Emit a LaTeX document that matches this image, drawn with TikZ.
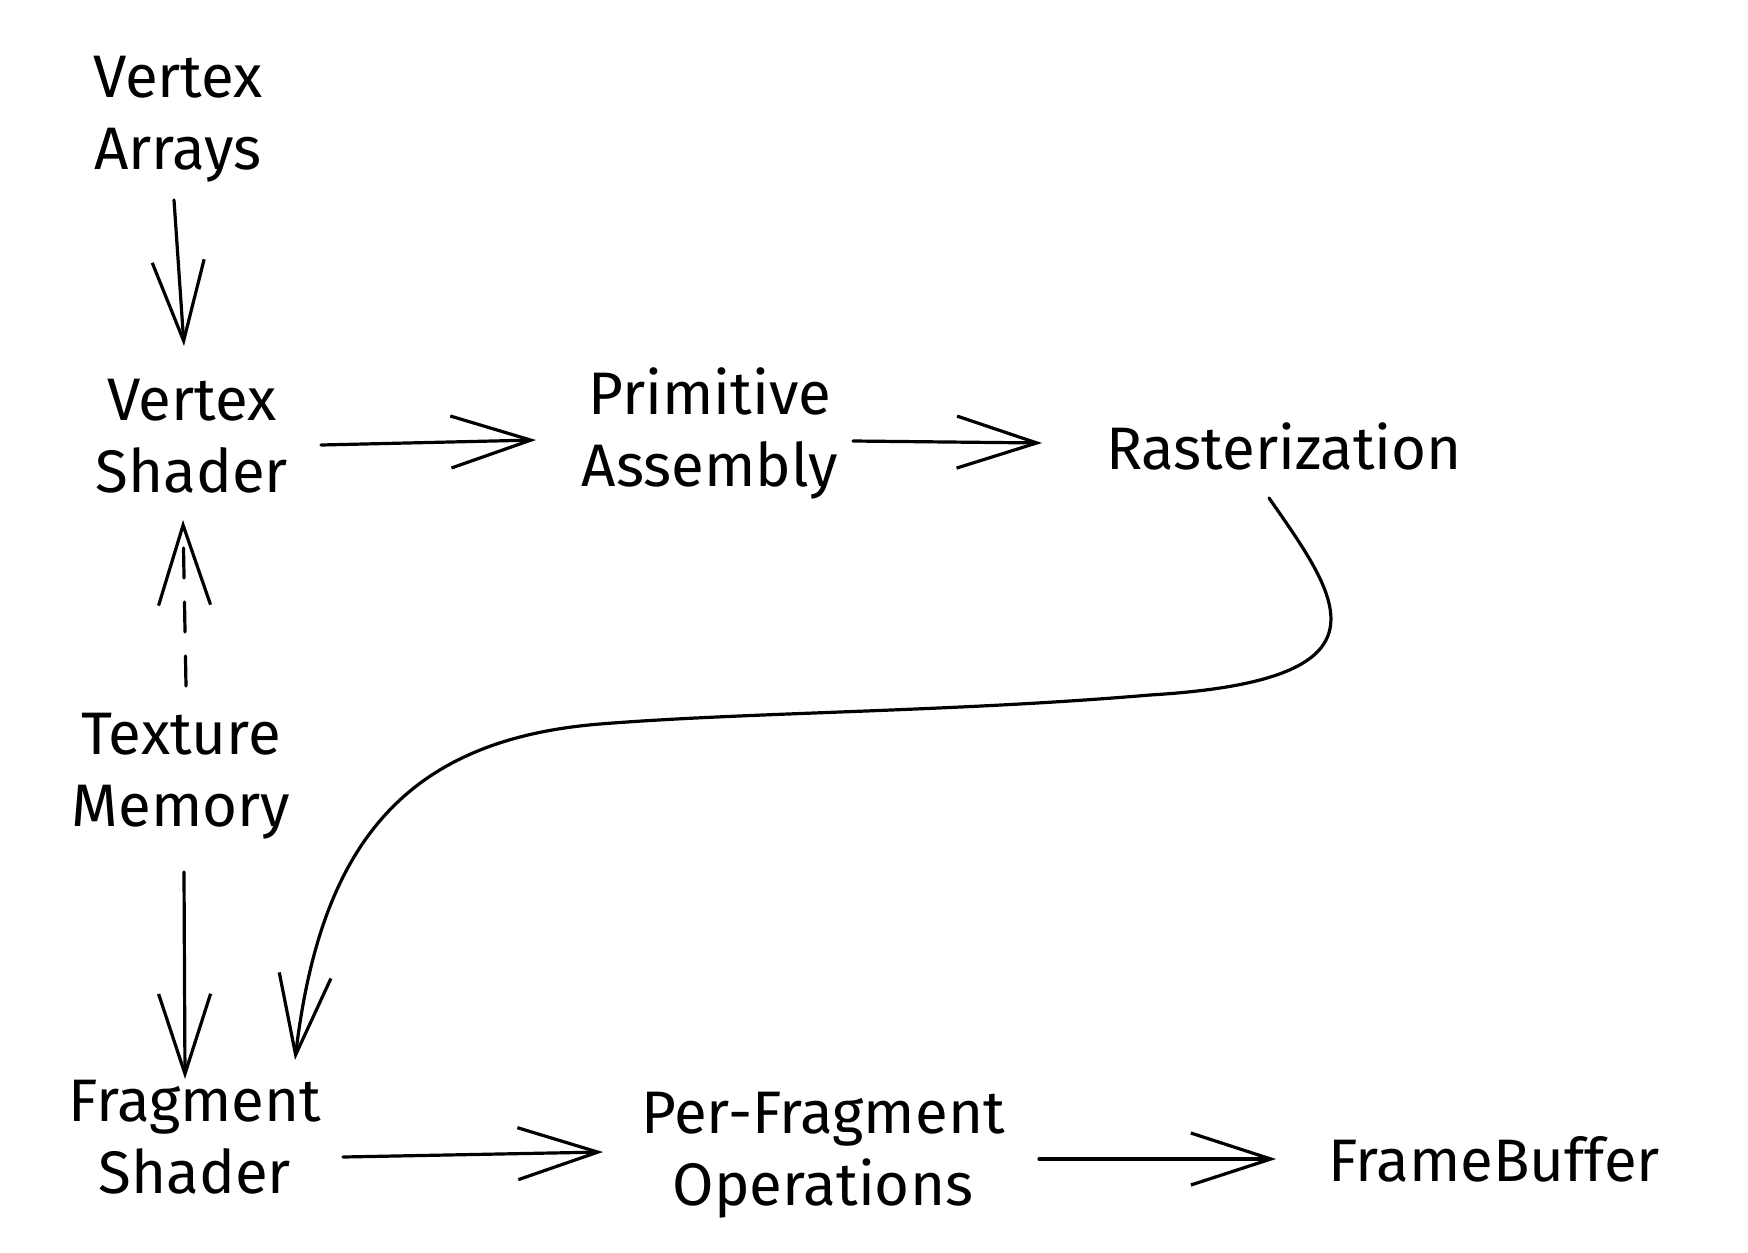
\documentclass[tikz,border=0pt]{standalone}
\usepackage{fontspec}
\setmainfont{Fira Sans}
\usetikzlibrary{arrows.meta,calc}
\tikzset{
  lbl/.style={inner sep=0pt, align=center, font=\fontsize{30}{36}\selectfont},
  arr/.style={line width=1.6pt, line cap=round, line join=round,
    -{Straight Barb[length=40pt,width=26pt,line width=1.6pt]}},
  dasharr/.style={arr, dash pattern=on 15pt off 12pt}
}
\begin{document}
\begin{tikzpicture}[x=0.5pt,y=-0.5pt]
\useasboundingbox (0,0) rectangle (1748,1252);
\fill[white] (0,0) rectangle (1748,1252);
\node[lbl] (va) at (178,119) {Vertex\\Arrays};
\node[lbl] (vs) at (192,436) {Vertex\\Shader};
\node[lbl] (pa) at (710,433) {Primitive\\Assembly};
\node[lbl] (ra) at (1284,446) {Rasterization};
\node[lbl] (tm) at (181,776) {Texture\\Memory};
\node[lbl] (fs) at (195,1137) {Fragment\\Shader};
\node[lbl] (pf) at (823,1155) {Per-Fragment\\Operations};
\node[lbl] (fb) at (1494,1159) {FrameBuffer};

\draw[arr] ($(va)+(-4,81)$) -- ($(vs)+(-8,-90)$);
\draw[arr] ($(vs)+(129,9)$) -- ($(pa)+(-174,7)$);
\draw[arr] ($(pa)+(143,8)$) -- ($(ra)+(-242,-3)$);
\draw[dasharr] ($(tm)+(5,-90)$) -- ($(vs)+(-9,84)$);
\draw[arr] ($(tm)+(3,96)$) -- ($(fs)+(-10,-58)$);
\draw[arr] ($(fs)+(148,20)$) -- ($(pf)+(-220,-3)$);
\draw[arr] ($(pf)+(216,4)$) -- ($(fb)+(-218,0)$);
\draw[arr] ($(ra)+(-15,52)$) .. controls (1340,600) and (1400,680) .. (1150,695)
  .. controls (950,712) and (750,712) .. (600,724)
  .. controls (400,740) and (320,850) .. ($(fs)+(100,-77)$);
\end{tikzpicture}
\end{document}
